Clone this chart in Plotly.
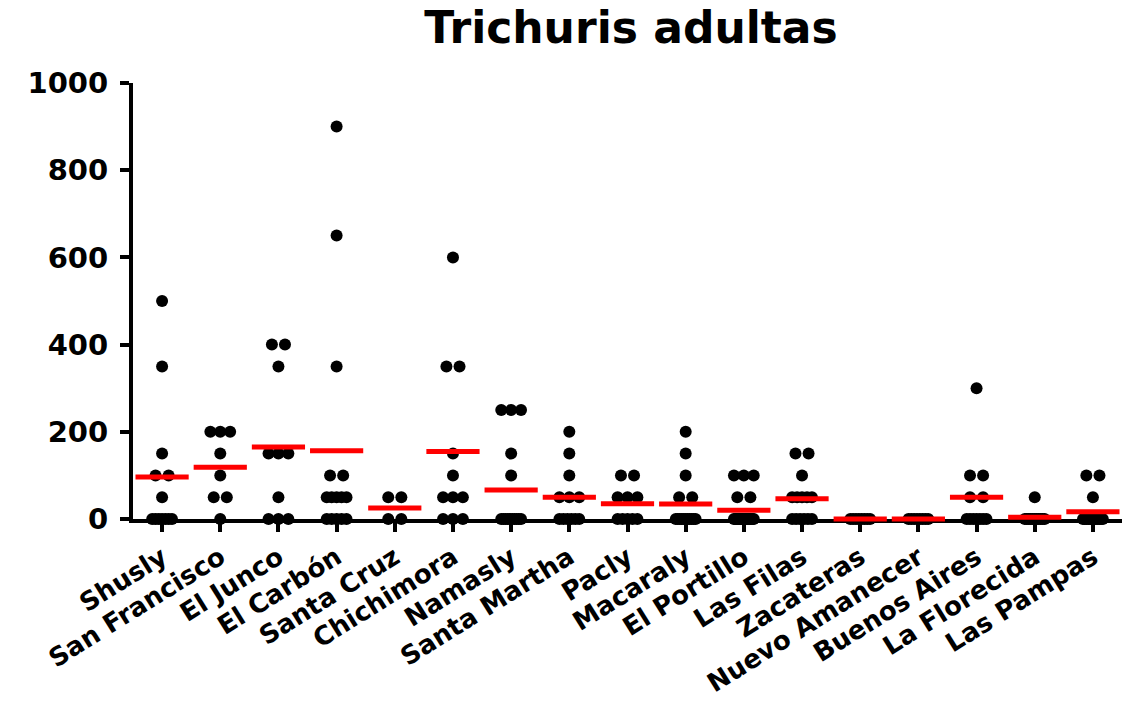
import numpy as np
import plotly.graph_objects as go

# ---- data ----
categories = ["Shusly", "San Francisco", "El Junco", "El Carbón", "Santa Cruz",
              "Chichimora", "Namasly", "Santa Martha", "Pacly", "Macaraly",
              "El Portillo", "Las Filas", "Zacateras", "Nuevo Amanecer",
              "Buenos Aires", "La Florecida", "Las Pampas"]

shusly = [500, 350, 150, 100, 100, 50, 0, 0, 0, 0, 0, 0, 0]
san_francisco = [200, 200, 200, 150, 100, 50, 50, 0]
el_junco = [400, 400, 350, 150, 150, 150, 50, 0, 0, 0]
el_carbon = [900, 650, 350, 100, 100, 50, 50, 50, 50, 50, 0, 0, 0, 0, 0]
santa_cruz = [50, 50, 0, 0]
chichimora = [600, 350, 350, 150, 100, 50, 50, 50, 0, 0, 0]
namasly = [250, 250, 250, 150, 100] + [0] * 10
santa_martha = [200, 150, 100, 50, 50, 50] + [0] * 6
pacly = [100, 100, 50, 50, 50] + [0] * 5
macaraly = [200, 150, 100, 50, 50] + [0] * 11
el_portillo = [100, 100, 100, 50, 50] + [0] * 15
las_filas = [150, 150, 100, 50, 50, 50, 50, 50] + [0] * 6
zacateras = [0] * 8
nuevo_amanecer = [0] * 8
buenos_aires = [300, 100, 100, 50, 50] + [0] * 7
la_florecida = [50] + [0] * 11
las_pampas = [100, 100, 50] + [0] * 12

groups = [shusly, san_francisco, el_junco, el_carbon, santa_cruz, chichimora,
          namasly, santa_martha, pacly, macaraly, el_portillo, las_filas,
          zacateras, nuevo_amanecer, buenos_aires, la_florecida, las_pampas]

y_ticks = [0, 200, 400, 600, 800, 1000]

# ---- scatter-dot layout (spread equal values side by side) ----
STEP = 0.225      # horizontal spacing between tied points (category units)
MAX_SPAN = 0.34   # maximum spread of one row of tied points
xs, ys, mx, my = [], [], [], []
for i, vals in enumerate(groups):
    vals = np.array(vals, dtype=float)
    for v in np.unique(vals):
        k = int((vals == v).sum())
        step = STEP if k < 2 else min(STEP, MAX_SPAN / (k - 1))
        offs = (np.arange(k) - (k - 1) / 2) * step
        xs.extend(i + offs)
        ys.extend([v] * k)
    mx.append(i)
    my.append(vals.mean())

FONT = "DejaVu Sans"

fig = go.Figure()
fig.add_trace(go.Scatter(
    x=xs, y=ys, mode="markers", cliponaxis=False,
    marker=dict(symbol="circle", size=12, color="black", line=dict(width=0)),
    hoverinfo="skip", showlegend=False))
fig.add_trace(go.Scatter(
    x=mx, y=my, mode="markers", cliponaxis=False,
    marker=dict(symbol="line-ew", size=38, color="#ff0000",
                line=dict(width=5, color="#ff0000")),
    hoverinfo="skip", showlegend=False))

fig.update_layout(
    width=1126, height=702,
    margin=dict(l=133, r=4, t=83, b=183),
    paper_bgcolor="white", plot_bgcolor="white",
    title=dict(text="Trichuris adultas", x=631 / 1126, xref="container",
               xanchor="center", y=1 - 28 / 702, yref="container",
               yanchor="middle",
               font=dict(family=FONT, size=44, color="black", weight="bold")),
    font=dict(family=FONT, color="black"),
)
fig.update_xaxes(
    range=[-0.5, 16.5], tickmode="array", tickvals=list(range(len(categories))),
    ticktext=categories, tickangle=-32, automargin=False,
    showline=True, linecolor="black", linewidth=4, layer="below traces",
    ticks="outside", ticklen=9, tickwidth=4, tickcolor="black",
    showgrid=False, zeroline=False,
    tickfont=dict(family=FONT, size=26, color="black", weight="bold"))
fig.update_yaxes(
    range=[0, 1000], tickmode="array", tickvals=y_ticks, automargin=False,
    showline=True, linecolor="black", linewidth=4, layer="below traces",
    ticks="outside", ticklen=9, tickwidth=4, tickcolor="black",
    showgrid=False, zeroline=False, ticklabelstandoff=6,
    tickfont=dict(family=FONT, size=29, color="black", weight="bold"))

fig.write_html("out.html")
